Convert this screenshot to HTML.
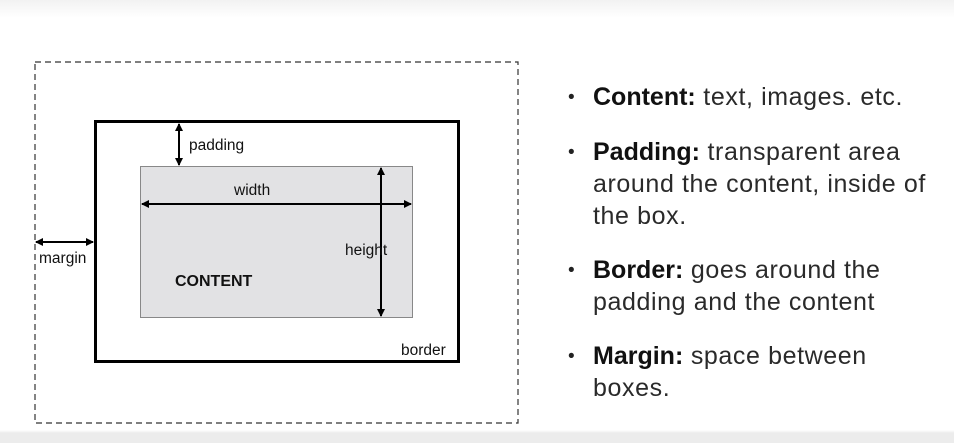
<!DOCTYPE html>
<html><head><meta charset="utf-8"><style>
html,body{margin:0;padding:0;width:954px;height:443px;overflow:hidden;background:#fff}
.bg{position:absolute;left:0;top:0;width:954px;height:443px;background:linear-gradient(#f2f2f2 0px,#fff 18px,#fff 430px,#ececec 433px,#ececec 443px)}
svg{position:absolute;left:0;top:0}
.t{position:absolute;left:593px;font-family:"Liberation Sans",sans-serif;font-size:25px;color:#2a2a2a;line-height:32px;font-weight:300;letter-spacing:0.6px;white-space:nowrap}
.t b{font-weight:bold;color:#111;letter-spacing:0}
.bul{position:absolute;left:568px;font-size:19px;font-family:"Liberation Sans",sans-serif;color:#222}
</style></head><body>
<div class="bg"></div>
<svg width="954" height="443" viewBox="0 0 954 443">
<defs>
<marker id="a" markerWidth="8" markerHeight="8" refX="7" refY="4" orient="auto-start-reverse" markerUnits="userSpaceOnUse">
<path d="M0,0 L8,4 L0,8 z" fill="#000"/></marker>
</defs>
<rect x="35" y="62" width="483" height="361" fill="none" stroke="#333" stroke-width="1.2" stroke-dasharray="6,4"/>
<rect x="95.5" y="121.5" width="363" height="240" fill="none" stroke="#000" stroke-width="3"/>
<rect x="140.5" y="166.5" width="272" height="151" fill="#e2e2e4" stroke="#888" stroke-width="1"/>
<line x1="179" y1="124" x2="179" y2="165" stroke="#000" stroke-width="2" marker-start="url(#a)" marker-end="url(#a)"/>
<line x1="142" y1="204" x2="411" y2="204" stroke="#000" stroke-width="2" marker-start="url(#a)" marker-end="url(#a)"/>
<line x1="381" y1="168" x2="381" y2="316" stroke="#000" stroke-width="2" marker-start="url(#a)" marker-end="url(#a)"/>
<line x1="36" y1="242" x2="93" y2="242" stroke="#000" stroke-width="2" marker-start="url(#a)" marker-end="url(#a)"/>
<g font-family="Liberation Sans, sans-serif" font-size="15.5" fill="#111">
<text x="189" y="150">padding</text>
<text x="234" y="195">width</text>
<text x="345" y="255">height</text>
<text x="39" y="263">margin</text>
<text x="401" y="355">border</text>
<text x="175" y="286" font-weight="bold" font-size="16">CONTENT</text>
</g>
</svg>
<div class="bul" style="top:87px">•</div>
<div class="t" style="top:81px"><b>Content:</b> text, images. etc.</div>
<div class="bul" style="top:142px">•</div>
<div class="t" style="top:136px"><b>Padding:</b> transparent area<br>around the content, inside of<br>the box.</div>
<div class="bul" style="top:260px">•</div>
<div class="t" style="top:254px"><b>Border:</b> goes around the<br>padding and the content</div>
<div class="bul" style="top:346px">•</div>
<div class="t" style="top:340px"><b>Margin:</b> space between<br>boxes.</div>
</body></html>
